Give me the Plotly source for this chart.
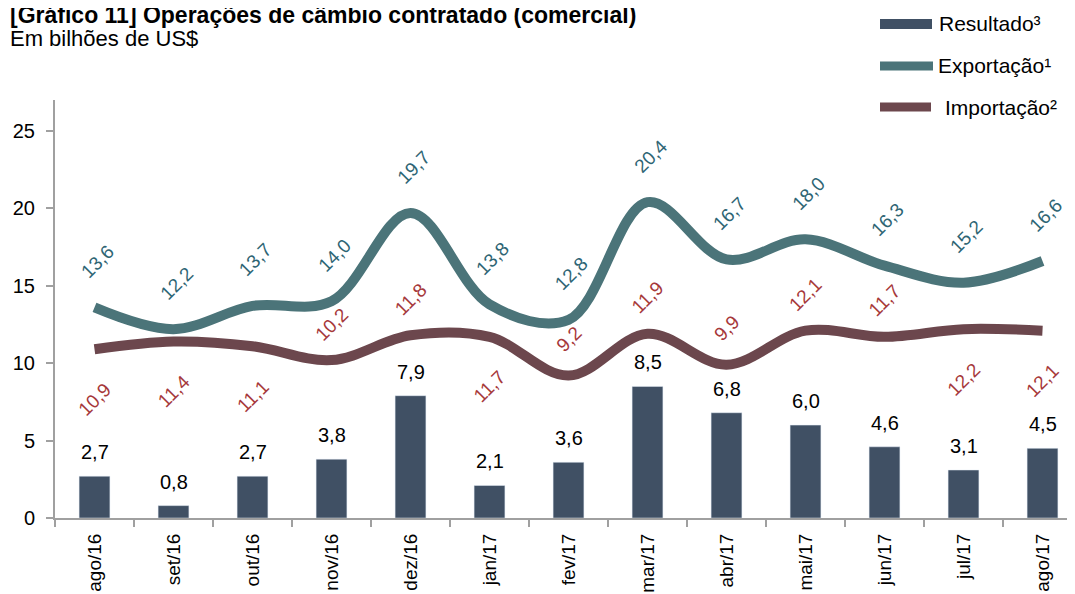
import plotly.graph_objects as go

# dados (bilhões de US$)
meses = ['ago/16', 'set/16', 'out/16', 'nov/16', 'dez/16', 'jan/17', 'fev/17',
         'mar/17', 'abr/17', 'mai/17', 'jun/17', 'jul/17', 'ago/17']
resultado = [2.7, 0.8, 2.7, 3.8, 7.9, 2.1, 3.6, 8.5, 6.8, 6.0, 4.6, 3.1, 4.5]
exportacao = [13.6, 12.2, 13.7, 14.0, 19.7, 13.8, 12.8, 20.4, 16.7, 18.0, 16.3, 15.2, 16.6]
importacao = [10.9, 11.4, 11.1, 10.2, 11.8, 11.7, 9.2, 11.9, 9.9, 12.1, 11.7, 12.2, 12.1]

# posição dos rótulos da importação (acima / abaixo da linha)
pos_import = ['b', 'b', 'b', 'a', 'a', 'b', 'a', 'a', 'a', 'a', 'a', 'b', 'b']

cor_barra = '#405064'
cor_exp = '#4b7479'
cor_imp = '#6c474d'
txt_exp = '#2e6574'
txt_imp = '#a6383a'
cor_eixo = '#a0a0a0'
fonte = 'Arial, Liberation Sans, sans-serif'


def fmt(v):
    return f'{v:.1f}'.replace('.', ',')


# conversão de pixels da página para coordenadas "paper"
def px(x):
    return (x - 55) / 1027


def py(y):
    return (518 - y) / 418


fig = go.Figure()
fig.add_trace(go.Bar(x=meses, y=resultado, marker_color=cor_barra, width=0.39,
                     showlegend=False))
fig.add_trace(go.Scatter(x=meses, y=exportacao, mode='lines',
                         line=dict(color=cor_exp, width=10, shape='spline', smoothing=1),
                         showlegend=False))
fig.add_trace(go.Scatter(x=meses, y=importacao, mode='lines',
                         line=dict(color=cor_imp, width=10, shape='spline', smoothing=1),
                         showlegend=False))

anns = []
for m, v in zip(meses, resultado):
    anns.append(dict(x=m, y=v, text=fmt(v), showarrow=False, yanchor='bottom',
                     yshift=11, font=dict(size=20, color='#000000')))
for m, v in zip(meses, exportacao):
    anns.append(dict(x=m, y=v, text=fmt(v), showarrow=False, textangle=-45,
                     yshift=46, xshift=3, font=dict(size=19, color=txt_exp)))
for m, v, p in zip(meses, importacao, pos_import):
    anns.append(dict(x=m, y=v, text=fmt(v), showarrow=False, textangle=-45,
                     yshift=36 if p == 'a' else -50, font=dict(size=19, color=txt_imp)))

# títulos
anns.append(dict(xref='paper', yref='paper', x=px(8), y=py(15),
                 xanchor='left', yanchor='middle', showarrow=False,
                 text='<b>[Gráfico 11] Operações de câmbio contratado (comercial)</b>',
                 font=dict(size=23, color='#000000')))
anns.append(dict(xref='paper', yref='paper', x=px(8), y=py(38),
                 xanchor='left', yanchor='middle', showarrow=False,
                 text='Em bilhões de US$', font=dict(size=22, color='#000000')))

# legenda manual
leg = [('Resultado³', 23, 937), ('Exportação¹', 66, 936), ('Importação²', 107, 943)]
for nome, yy, xt in leg:
    anns.append(dict(xref='paper', yref='paper', x=px(xt), y=py(yy), text=nome,
                     xanchor='left', yanchor='middle', showarrow=False,
                     font=dict(size=21, color='#000000')))
shapes = [
    dict(type='rect', xref='paper', yref='paper', x0=px(880), x1=px(932),
         y0=py(29), y1=py(19), fillcolor=cor_barra, line=dict(width=0)),
    dict(type='line', xref='paper', yref='paper', x0=px(880), x1=px(933),
         y0=py(66), y1=py(66), line=dict(color=cor_exp, width=9)),
    dict(type='line', xref='paper', yref='paper', x0=px(880), x1=px(931),
         y0=py(107), y1=py(107), line=dict(color=cor_imp, width=9)),
]

fig.update_layout(
    width=1075, height=594,
    margin=dict(l=47, r=1, t=92, b=84),
    plot_bgcolor='white', paper_bgcolor='white',
    font=dict(family=fonte, color='#000000'),
    annotations=anns, shapes=shapes,
)
fig.update_xaxes(type='category', range=[-0.5, 12.5], tickangle=-90,
                 showline=True, linecolor=cor_eixo, linewidth=2,
                 ticks='outside', tickson='boundaries', ticklen=7, tickcolor=cor_eixo,
                 tickwidth=2, tickfont=dict(size=19), ticklabelstandoff=6,
                 automargin=False, showgrid=False)
fig.update_yaxes(range=[0, 27], tickvals=[0, 5, 10, 15, 20, 25],
                 showline=True, linecolor=cor_eixo, linewidth=2,
                 ticks='outside', ticklen=7, tickcolor=cor_eixo, tickwidth=2,
                 tickfont=dict(size=20), ticklabelstandoff=7,
                 showgrid=False, zeroline=False, automargin=False)

fig.write_html('out.html')
